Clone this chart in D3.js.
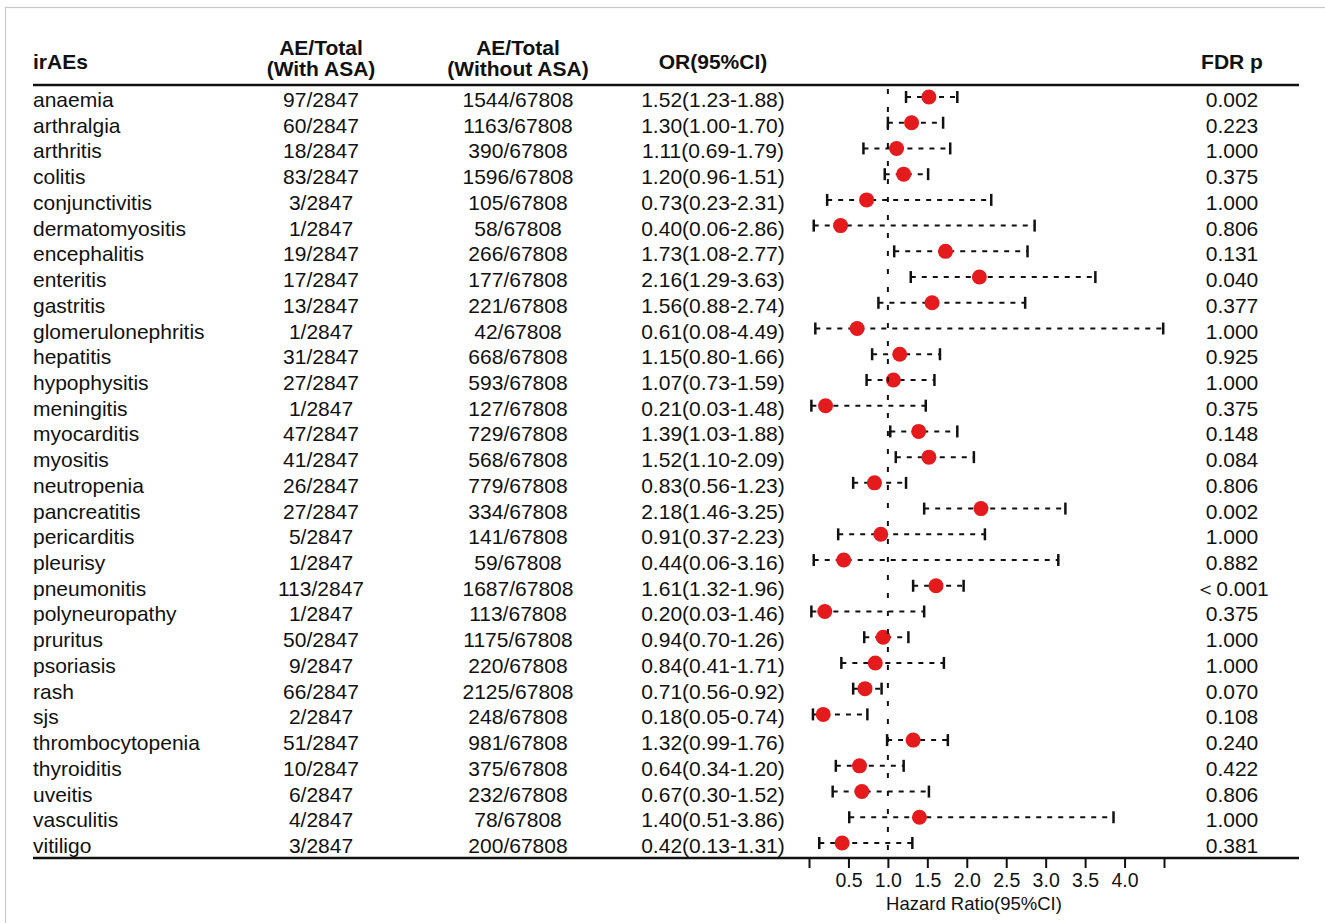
<!DOCTYPE html>
<html>
<head>
<meta charset="utf-8">
<script src="https://cdn.jsdelivr.net/npm/d3@7"></script>
<style>
  body { margin: 0; background: #fff; }
  text { font-family: "Liberation Sans", Arial, sans-serif; fill: #111; }
</style>
</head>
<body>
<svg id="chart" width="1325" height="923"></svg>
<script>
// forest plot data, one entry per irAE
var names = ["anaemia", "arthralgia", "arthritis", "colitis", "conjunctivitis", "dermatomyositis",
  "encephalitis", "enteritis", "gastritis", "glomerulonephritis", "hepatitis", "hypophysitis",
  "meningitis", "myocarditis", "myositis", "neutropenia", "pancreatitis", "pericarditis",
  "pleurisy", "pneumonitis", "polyneuropathy", "pruritus", "psoriasis", "rash", "sjs",
  "thrombocytopenia", "thyroiditis", "uveitis", "vasculitis", "vitiligo"];
var aeWith = [97, 60, 18, 83, 3, 1, 19, 17, 13, 1, 31, 27, 1, 47, 41, 26, 27, 5, 1, 113, 1, 50, 9, 66, 2, 51, 10, 6, 4, 3];
var aeWithout = [1544, 1163, 390, 1596, 105, 58, 266, 177, 221, 42, 668, 593, 127, 729, 568, 779, 334, 141, 59, 1687,
  113, 1175, 220, 2125, 248, 981, 375, 232, 78, 200];
var totalWith = 2847, totalWithout = 67808;
var orVal = [1.52, 1.30, 1.11, 1.20, 0.73, 0.40, 1.73, 2.16, 1.56, 0.61, 1.15, 1.07, 0.21, 1.39, 1.52, 0.83, 2.18, 0.91,
  0.44, 1.61, 0.20, 0.94, 0.84, 0.71, 0.18, 1.32, 0.64, 0.67, 1.40, 0.42];
var ciLow = [1.23, 1.00, 0.69, 0.96, 0.23, 0.06, 1.08, 1.29, 0.88, 0.08, 0.80, 0.73, 0.03, 1.03, 1.10, 0.56, 1.46, 0.37,
  0.06, 1.32, 0.03, 0.70, 0.41, 0.56, 0.05, 0.99, 0.34, 0.30, 0.51, 0.13];
var ciHigh = [1.88, 1.70, 1.79, 1.51, 2.31, 2.86, 2.77, 3.63, 2.74, 4.49, 1.66, 1.59, 1.48, 1.88, 2.09, 1.23, 3.25, 2.23,
  3.16, 1.96, 1.46, 1.26, 1.71, 0.92, 0.74, 1.76, 1.20, 1.52, 3.86, 1.31];
var fdrP = ["0.002", "0.223", "1.000", "0.375", "1.000", "0.806", "0.131", "0.040", "0.377", "1.000", "0.925", "1.000",
  "0.375", "0.148", "0.084", "0.806", "0.002", "1.000", "0.882", "＜0.001", "0.375", "1.000", "1.000", "0.070",
  "0.108", "0.240", "0.422", "0.806", "1.000", "0.381"];
var tickVals = [0, 0.5, 1, 1.5, 2, 2.5, 3, 3.5, 4, 4.5];
var tickLabels = ["", "0.5", "1.0", "1.5", "2.0", "2.5", "3.0", "3.5", "4.0", ""];

var rows = names.map(function(n, i) {
  return { name: n, w: aeWith[i] + "/" + totalWith, wo: aeWithout[i] + "/" + totalWithout,
    or: orVal[i], lo: ciLow[i], hi: ciHigh[i], p: fdrP[i] };
});

var fmt = d3.format(".2f");
var svg = d3.select("#chart");

// faint frame like the exported figure
svg.append("rect").attr("x", 5.5).attr("y", 7.5).attr("width", 1340).attr("height", 940)
  .attr("fill", "none").attr("stroke", "#c8c8c8").attr("stroke-width", 1.2);

// note: "top" clashes with window.top, so use ruleTop
var ruleLeft = 33, ruleRight = 1299, ruleTop = 85, ruleBottom = 858;

var x = d3.scaleLinear().domain([0, 4.5]).range([809, 1164]);
var y = d3.scalePoint().domain(names).range([100, 846]);

var col = { name: ruleLeft, w: 321, wo: 518, or: 713, p: 1232 };
var fs = 21;

// header
var head = svg.append("g").attr("font-size", fs);
head.append("text").attr("x", col.name).attr("y", 69).style("font-weight", "bold").text("irAEs");
[["w", "(With ASA)"], ["wo", "(Without ASA)"]].forEach(function(h) {
  head.append("text").attr("x", col[h[0]]).attr("y", 55).attr("text-anchor", "middle")
    .style("font-weight", "bold").text("AE/Total");
  head.append("text").attr("x", col[h[0]]).attr("y", 76).attr("text-anchor", "middle")
    .style("font-weight", "bold").text(h[1]);
});
head.append("text").attr("x", col.or).attr("y", 69).attr("text-anchor", "middle")
  .style("font-weight", "bold").text("OR(95%CI)");
head.append("text").attr("x", col.p).attr("y", 69).attr("text-anchor", "middle")
  .style("font-weight", "bold").text("FDR p");

svg.append("line").attr("x1", ruleLeft).attr("x2", ruleRight).attr("y1", ruleTop).attr("y2", ruleTop)
  .attr("stroke", "#111").attr("stroke-width", 2.5);

// table cells
var rowG = svg.append("g").attr("font-size", fs).selectAll("g")
  .data(rows).enter().append("g")
  .attr("transform", d => "translate(0," + y(d.name) + ")");

rowG.append("text").attr("x", col.name).attr("y", 7).text(d => d.name);
rowG.append("text").attr("x", col.w).attr("y", 7).attr("text-anchor", "middle").text(d => d.w);
rowG.append("text").attr("x", col.wo).attr("y", 7).attr("text-anchor", "middle").text(d => d.wo);
rowG.append("text").attr("x", col.or).attr("y", 7).attr("text-anchor", "middle")
  .text(d => fmt(d.or) + "(" + fmt(d.lo) + "-" + fmt(d.hi) + ")");
rowG.append("text").attr("x", col.p).attr("y", 7).attr("text-anchor", "middle").text(d => d.p);

// reference line at OR = 1
svg.append("line").attr("x1", x(1)).attr("x2", x(1)).attr("y1", ruleTop + 4).attr("y2", ruleBottom)
  .attr("stroke", "#111").attr("stroke-width", 2).attr("stroke-dasharray", "5,13");

// CI whiskers + points
var ci = rowG.append("g").attr("transform", "translate(0,-3)");
ci.append("line").attr("x1", d => x(d.lo)).attr("x2", d => x(d.hi))
  .attr("stroke", "#111").attr("stroke-width", 2).attr("stroke-dasharray", "5,6");
ci.append("line").attr("x1", d => x(d.lo)).attr("x2", d => x(d.lo)).attr("y1", -6).attr("y2", 6)
  .attr("stroke", "#111").attr("stroke-width", 2.5);
ci.append("line").attr("x1", d => x(d.hi)).attr("x2", d => x(d.hi)).attr("y1", -6).attr("y2", 6)
  .attr("stroke", "#111").attr("stroke-width", 2.5);
ci.append("circle").attr("cx", d => x(d.or)).attr("r", 7.5).attr("fill", "#e41a1c");

// bottom rule + axis
svg.append("line").attr("x1", ruleLeft).attr("x2", ruleRight).attr("y1", ruleBottom).attr("y2", ruleBottom)
  .attr("stroke", "#111").attr("stroke-width", 2.5);

var axis = d3.axisBottom(x).tickValues(tickVals).tickSize(10).tickPadding(5)
  .tickFormat((d, i) => tickLabels[i]);
var ax = svg.append("g").attr("transform", "translate(0," + ruleBottom + ")").call(axis);
ax.select(".domain").remove();
ax.selectAll(".tick line").attr("stroke", "#111").attr("stroke-width", 2);
ax.selectAll(".tick text").attr("font-size", 19.5).attr("font-family", "Liberation Sans, Arial, sans-serif")
  .attr("fill", "#111");

svg.append("text").attr("x", 974).attr("y", 910).attr("text-anchor", "middle").attr("font-size", 18.5)
  .text("Hazard Ratio(95%CI)");
</script>
</body>
</html>
